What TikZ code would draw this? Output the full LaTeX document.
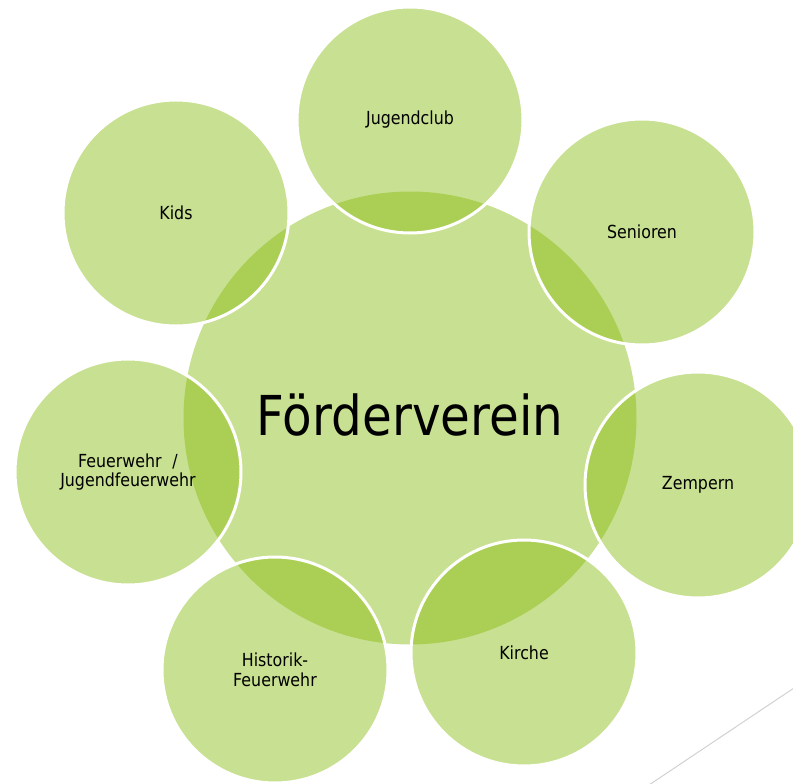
\documentclass[tikz,border=0pt]{standalone}
\usepackage{fontspec}
\usepackage{tikz}
\newfontfamily\labelfont[FakeStretch=0.88]{DejaVu Sans}

\begin{document}
\begin{tikzpicture}
			[x=1pt,y=-1pt,line cap=round,
			%Styles
			hub/.style={circle,inner sep=0pt,minimum size=453pt,fill=leaf,fill opacity=0.45,text opacity=1,text=black,font=\labelfont\fontsize{55}{60}\selectfont},
			spoke/.style={circle,inner sep=0pt,minimum size=226pt,fill=leaf,fill opacity=0.45,draw=white,draw opacity=1,line width=3pt,text opacity=1,text=black,align=center,font=\labelfont\fontsize{18}{19.5}\selectfont},
			deco line/.style={draw=black!18,line width=1pt}
			]
			
			%Colors
			\definecolor{leaf}{RGB}{134,186,10}	%all circles
			
			\useasboundingbox (0,0) rectangle (793,784);
			\clip (0,0) rectangle (793,784);
			
			%The graphic
			\node[hub] (foerder) at (410,418) {};
			\node[text=black,font=\labelfont\fontsize{55}{60}\selectfont] (foerdertext) at (410,415) {Förderverein};
			
			\node[spoke] (jugendclub) at (410,120) {Jugendclub};
			\node[spoke] (senioren) at (642,232) {Senioren};
			\node[spoke] (zempern) at (698,485) {Zempern};
			\node[spoke] (kirche) at (524,653) {Kirche};
			\node[spoke] (historik) at (275,670) {Historik-\\Feuerwehr};
			\node[spoke] (feuerwehr) at (128,472) {Feuerwehr\hspace{0.6em}/\\Jugendfeuerwehr};
			\node[spoke] (kids) at (176,213) {Kids};
			
			\draw[deco line] (800,684) -- (643,789);
		\end{tikzpicture}
\end{document}
